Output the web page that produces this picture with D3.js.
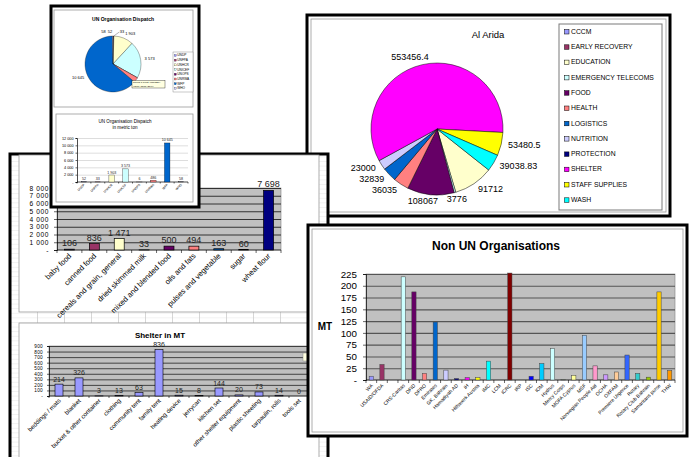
<!DOCTYPE html>
<html><head><meta charset="utf-8">
<script src="https://cdn.jsdelivr.net/npm/d3@7"></script>
<style>
body{margin:0;background:#fff}
svg{display:block;font-family:"Liberation Sans",Arial,Helvetica,sans-serif}
</style>
</head><body>
<svg id="c" width="693" height="457"></svg>
<script>
// ---------------- DATA ----------------
const unOrgs = ["UNDP","UNFPA","UNHCR","UNICEF","UNOPS","UNRWA","WFP","WHO"];
const unDispatch = [52,33,1903,3573,6,486,10645,58];
const unTicks = [0,2000,4000,6000,8000,10000,12000];

const foodItems = ["baby food","canned food","cereals and grain, general","dried skimmed milk","mixed and blended food","oils and fats","pulses and vegetable","sugar","wheat flour"];
const foodMT = [106,836,1471,33,500,494,163,60,7698];
const foodTicks = [0,1000,2000,3000,4000,5000,6000,7000,8000];

const shelterItems = ["beddings / mats","blanket","bucket & other container","clothing","community tent","family tent","heating device","jerrycan","kitchen set","other shelter equipment","plastic sheeting","tarpaulin, rolls","tools set"];
const shelterMT = [214,326,3,13,63,836,15,8,144,20,73,14,0];
const shelterTicks = [0,100,200,300,400,500,600,700,800,900];

const clusters = ["CCCM","EARLY RECOVERY","EDUCATION","EMERGENCY TELECOMS","FOOD","HEALTH","LOGISTICS","NUTRITION","PROTECTION","SHELTER","STAFF SUPPLIES","WASH"];
const clusterValues = [0,0,91712,3776,108067,36035,32839,23000,0,553456.4,53480.5,39038.83];
const clusterLabels = ["","","91712","3776","108067","36035","32839","23000","","553456.4","53480.5","39038.83"];

const nonUnOrgs = ["WA","USAID/OFDA","","CRS-Caritas","DFID","DFRO","Emirates","GK, Bahrain","Hamadiyah AD","IH","Hilfswerk Austria","IMC","LCM","ICRC","IRP","ISC","IOM","Hydrus","Mercy Corps","MOFA Cyprus","MSF","Norwegian People Aid","OCHA","OXFAM","Premiere Urgence","Rotary","Rotary Club Bahrain","Samaritans purse","THW"];
const nonUnMT = [8,33,0,219,187,14,123,21,3,5,5,40,0,227,0,8,35,67,1,10,95,30,11,17,53,14,6,187,20];
const nonUnTicks = [0,25,50,75,100,125,150,175,200,225];

// Excel default chart palette
const palette = ["#9999FF","#993366","#FFFFCC","#CCFFFF","#660066","#FF8080","#0066CC","#CCCCFF","#000080","#FF00FF","#FFFF00","#00FFFF","#800080","#800000","#008080","#0000FF","#00CCFF","#CCFFFF","#CCFFCC","#FFFF99","#99CCFF","#FF99CC","#CC99FF","#FFCC99","#3366FF","#33CCCC","#99CC00","#FFCC00","#FF9900"];

// ---------------- HELPERS ----------------
const svg = d3.select("#c");
const loc = d3.formatLocale({decimal:".",thousands:" ",grouping:[3],currency:["",""]});
const f0 = loc.format(",");
const axisFmt = v => v === 0 ? "-" : f0(v);

const defs = svg.append("defs");
const pat = defs.append("pattern").attr("id","sheet").attr("patternUnits","userSpaceOnUse")
  .attr("x",10).attr("y",0).attr("width",27).attr("height",4.6);
pat.append("rect").attr("width",27).attr("height",4.6).attr("fill","#fff");
pat.append("line").attr("x1",0).attr("x2",27).attr("y1",0.3).attr("y2",0.3).attr("stroke","#e3e3e3").attr("stroke-width",0.6);
pat.append("line").attr("x1",0.4).attr("x2",0.4).attr("y1",0).attr("y2",4.6).attr("stroke","#c8c8c8").attr("stroke-width",0.8);

function frame(x,y,w,h,fill){
  svg.append("rect").attr("x",x).attr("y",y).attr("width",w).attr("height",h)
    .attr("fill",fill).attr("stroke","#000").attr("stroke-width",3);
}
function panel(x,y,w,h){
  svg.append("rect").attr("x",x).attr("y",y).attr("width",w).attr("height",h)
    .attr("fill","#fff").attr("stroke","#9a9a9a").attr("stroke-width",0.8);
}

function barChart(o){
  const g = svg.append("g");
  const x = d3.scaleBand().domain(o.cats).range([o.left,o.right]).paddingInner(0.6).paddingOuter(0.3);
  const y = d3.scaleLinear().domain([0,o.max]).range([o.bottom,o.top]);
  g.append("rect").attr("x",o.left).attr("y",o.top).attr("width",o.right-o.left).attr("height",o.bottom-o.top)
    .attr("fill",o.bg).attr("stroke",o.bg==="#fff"?"none":"#808080").attr("stroke-width",0.6);
  // gridlines
  const grid = g.append("g").attr("transform",`translate(${o.left},0)`)
    .call(d3.axisLeft(y).tickValues(o.ticks.filter(t=>t>0)).tickSize(-(o.right-o.left)).tickFormat(""));
  grid.select(".domain").remove();
  grid.selectAll("line").attr("stroke",o.grid).attr("stroke-width",o.gridW);
  // y labels
  const ya = g.append("g").attr("transform",`translate(${o.left},0)`)
    .call(d3.axisLeft(y).tickValues(o.ticks).tickSize(o.tick).tickPadding(o.pad).tickFormat(axisFmt));
  ya.select(".domain").attr("stroke","#000").attr("stroke-width",0.7);
  ya.selectAll("line").attr("stroke","#000").attr("stroke-width",0.6);
  ya.selectAll("text").attr("font-size",o.yfs).attr("fill","#000").attr("font-family",null)
    .attr("letter-spacing",o.yls||0);
  // x axis line + boundary ticks
  g.append("line").attr("x1",o.left).attr("x2",o.right).attr("y1",o.bottom).attr("y2",o.bottom)
    .attr("stroke","#000").attr("stroke-width",0.7);
  const step = x.step();
  g.selectAll(".bt").data(d3.range(o.cats.length+1)).join("line")
    .attr("x1",i=>o.left+i*step).attr("x2",i=>o.left+i*step)
    .attr("y1",o.bottom).attr("y2",o.bottom+o.tick).attr("stroke","#000").attr("stroke-width",0.6);
  // bars
  g.selectAll(".bar").data(o.vals).join("rect")
    .attr("x",(d,i)=>x(o.cats[i])).attr("width",x.bandwidth())
    .attr("y",d=>y(d)).attr("height",d=>o.bottom-y(d))
    .attr("fill",(d,i)=>o.color(i)).attr("stroke",o.barStroke).attr("stroke-width",o.barSW);
  // value labels
  if(o.vfs){
    g.selectAll(".vl").data(o.vals).join("text")
      .attr("x",(d,i)=>x(o.cats[i])+x.bandwidth()/2).attr("y",d=>y(d)-o.vgap)
      .attr("text-anchor","middle").attr("font-size",o.vfs).attr("fill","#222")
      .text(d=>f0(d));
  }
  // category labels
  g.selectAll(".cl").data(o.cats).join("text")
    .attr("transform",d=>`translate(${x(d)+x.bandwidth()/2+o.cdx},${o.bottom+o.cdy}) rotate(-45)`)
    .attr("text-anchor","end").attr("dominant-baseline","middle")
    .attr("font-size",o.cfs).attr("fill","#000").text(d=>d);
  return g;
}

// ---------------- AL ARIDA (back window) ----------------
frame(307,15,363,201,"#fff");
panel(311,19,355,193);
svg.append("text").attr("x",488).attr("y",38).attr("text-anchor","middle")
  .attr("font-size",9.5).attr("fill","#000").text("Al Arida");
{
  const cx=437, cy=129, R=66;
  const a0 = 128.4*Math.PI/180;
  const pie = d3.pie().sort(null).value(d=>d).startAngle(a0).endAngle(a0+2*Math.PI);
  const arcs = pie(clusterValues).map((a,i)=>Object.assign(a,{i}));
  const arc = d3.arc().innerRadius(0).outerRadius(R);
  const g = svg.append("g").attr("transform",`translate(${cx},${cy})`);
  g.selectAll("path").data(arcs.filter(a=>a.value>0)).join("path")
    .attr("d",arc).attr("fill",a=>palette[a.i]).attr("stroke","#000").attr("stroke-width",0.5);
  g.selectAll("text").data(arcs.filter(a=>a.value>0)).join("text")
    .each(function(a){
      const m=(a.startAngle+a.endAngle)/2, r2=R+7;
      const s=Math.sin(m), c=Math.cos(m);
      d3.select(this).attr("x",r2*s).attr("y",-r2*c)
        .attr("text-anchor", s>0.3?"start":(s<-0.05?"end":"middle"))
        .attr("dx", (s<-0.05 && s>-0.3) ? 8 : 0)
        .attr("dominant-baseline","middle");
    })
    .attr("font-size",9).attr("fill","#000").text(a=>clusterLabels[a.i]);
  // legend
  svg.append("rect").attr("x",559).attr("y",24).attr("width",103).attr("height",186)
    .attr("fill","#fff").attr("stroke","#7a7a7a").attr("stroke-width",1);
  const lg = svg.append("g");
  lg.selectAll("rect").data(clusters).join("rect")
    .attr("x",564.5).attr("y",(d,i)=>29.5+i*15.3).attr("width",4.5).attr("height",4.5)
    .attr("fill",(d,i)=>palette[i]).attr("stroke","#000").attr("stroke-width",0.5);
  lg.selectAll("text").data(clusters).join("text")
    .attr("x",571).attr("y",(d,i)=>32+i*15.3).attr("dominant-baseline","middle")
    .attr("font-size",6.8).attr("fill","#000").text(d=>d);
}

// ---------------- BIG LEFT WINDOW ----------------
frame(10,154,318,320,"url(#sheet)");
panel(19,155,300,157);
barChart({cats:foodItems, vals:foodMT, max:8000, ticks:foodTicks,
  left:57, right:281, top:188, bottom:250, bg:"#C0C0C0", grid:"#222", gridW:0.9,
  tick:3, pad:5, yfs:6.6, yls:0.6, vfs:9, vgap:3, cfs:7.6, cdx:1, cdy:5,
  color:i=>palette[i], barStroke:"#000", barSW:0.7});

panel(19,323,300,150);
svg.append("text").attr("x",160).attr("y",338).attr("text-anchor","middle")
  .attr("font-size",8).attr("font-weight","bold").attr("fill","#000").text("Shelter in MT");
barChart({cats:shelterItems, vals:shelterMT, max:900, ticks:shelterTicks,
  left:49, right:309, top:346, bottom:396, bg:"#C0C0C0", grid:"#222", gridW:0.8,
  tick:2, pad:4, yfs:4.7, yls:0.3, vfs:7, vgap:2.5, cfs:6.2, cdx:1, cdy:4,
  color:()=>"#9999FF", barStroke:"#000", barSW:0.6});
// partially hidden tooltip at right edge
svg.append("rect").attr("x",303).attr("y",353).attr("width",8).attr("height",8)
  .attr("fill","#ffffe1").attr("stroke","#888").attr("stroke-width",0.5);

// ---------------- NON UN WINDOW ----------------
frame(308,225,379,211,"#fff");
panel(312,229,371,203);
svg.append("text").attr("x",496).attr("y",250).attr("text-anchor","middle")
  .attr("font-size",12).attr("font-weight","bold").attr("fill","#000").text("Non UN Organisations");
svg.append("text").attr("x",325).attr("y",330).attr("text-anchor","middle")
  .attr("font-size",10).attr("font-weight","bold").attr("fill","#000").text("MT");
barChart({cats:nonUnOrgs, vals:nonUnMT, max:225, ticks:nonUnTicks,
  left:366, right:675, top:274, bottom:380, bg:"#C0C0C0", grid:"#555", gridW:1.1,
  tick:3, pad:6, yfs:9.8, vfs:0, vgap:0, cfs:5, cdx:1, cdy:5,
  color:i=>palette[i % palette.length], barStroke:"#444", barSW:0.5});

// ---------------- SMALL TOP-LEFT WINDOW ----------------
frame(51,6,148,201,"#fff");
panel(54,10,139,97);
svg.append("text").attr("x",123).attr("y",21).attr("text-anchor","middle")
  .attr("font-size",5).attr("font-weight","bold").attr("fill","#000").text("UN Organisation Dispatch");
{
  const cx=113, cy=64, R=28;
  const pie = d3.pie().sort(null).value(d=>d);
  const arcs = pie(unDispatch).map((a,i)=>Object.assign(a,{i}));
  const arc = d3.arc().innerRadius(0).outerRadius(R);
  const g = svg.append("g").attr("transform",`translate(${cx},${cy})`);
  g.selectAll("path").data(arcs).join("path").attr("d",arc)
    .attr("fill",a=>palette[a.i]).attr("stroke","#000").attr("stroke-width",0.3);
  const shownDx = {UNDP:-1, UNFPA:6, WHO:-7, UNHCR:0, UNICEF:0, WFP:0};
  g.selectAll("text").data(arcs.filter(a=>unOrgs[a.i] in shownDx)).join("text")
    .each(function(a){
      const m=(a.startAngle+a.endAngle)/2, r2=R+4;
      const s=Math.sin(m), c=Math.cos(m);
      const name=unOrgs[a.i];
      const tiny = a.value < 100;
      d3.select(this).attr("x",r2*s+shownDx[name]).attr("y",-r2*c)
        .attr("text-anchor", tiny?(shownDx[name]>0?"start":"end"):(s>0.3?"start":(s<-0.3?"end":"middle")))
        .attr("dominant-baseline","middle");
    })
    .attr("font-size",4).attr("fill","#000").text(a=>f0(a.value));
  // leader line for UNFPA
  const fp = arcs[1], fm=(fp.startAngle+fp.endAngle)/2;
  g.append("line").attr("x1",R*Math.sin(fm)).attr("y1",-R*Math.cos(fm))
    .attr("x2",(R+4)*Math.sin(fm)+5.5).attr("y2",-(R+4)*Math.cos(fm))
    .attr("stroke","#000").attr("stroke-width",0.3);
  // legend
  svg.append("rect").attr("x",173).attr("y",52).attr("width",20).attr("height",40)
    .attr("fill","#fff").attr("stroke","#777").attr("stroke-width",0.4);
  const lg = svg.append("g");
  lg.selectAll("rect").data(unOrgs).join("rect")
    .attr("x",174.3).attr("y",(d,i)=>54.5+i*4.7).attr("width",2).attr("height",2)
    .attr("fill",(d,i)=>palette[i]).attr("stroke","#000").attr("stroke-width",0.2);
  lg.selectAll("text").data(unOrgs).join("text")
    .attr("x",177.3).attr("y",(d,i)=>55.6+i*4.7).attr("dominant-baseline","middle")
    .attr("font-size",3.2).attr("fill","#000").text(d=>d);
  // tooltip
  svg.append("rect").attr("x",132).attr("y",80.5).attr("width",33).attr("height",7.5)
    .attr("fill","#ffffe1").attr("stroke","#000").attr("stroke-width",0.35);
  svg.append("text").attr("x",133).attr("y",83.3).attr("font-size",2.5).attr("fill","#000").text('Series 1 Point "UNICEF"');
  svg.append("text").attr("x",133).attr("y",86.6).attr("font-size",2.5).attr("fill","#000").text("Value: 3573 (21%)");
}
panel(56,114,137,88);
svg.append("text").attr("x",125).attr("y",123).attr("text-anchor","middle")
  .attr("font-size",4.6).attr("fill","#000").text("UN Organisation Dispatch");
svg.append("text").attr("x",125).attr("y",129).attr("text-anchor","middle")
  .attr("font-size",4.6).attr("fill","#000").text("in metric ton");
barChart({cats:unOrgs, vals:unDispatch, max:12000, ticks:unTicks,
  left:77, right:188, top:138, bottom:182, bg:"#fff", grid:"#aaa", gridW:0.4,
  tick:1.5, pad:2, yfs:3.8, vfs:3.6, vgap:1.5, cfs:3.1, cdx:0.5, cdy:2.5,
  color:i=>palette[i], barStroke:"#000", barSW:0.3});
</script>
</body></html>
